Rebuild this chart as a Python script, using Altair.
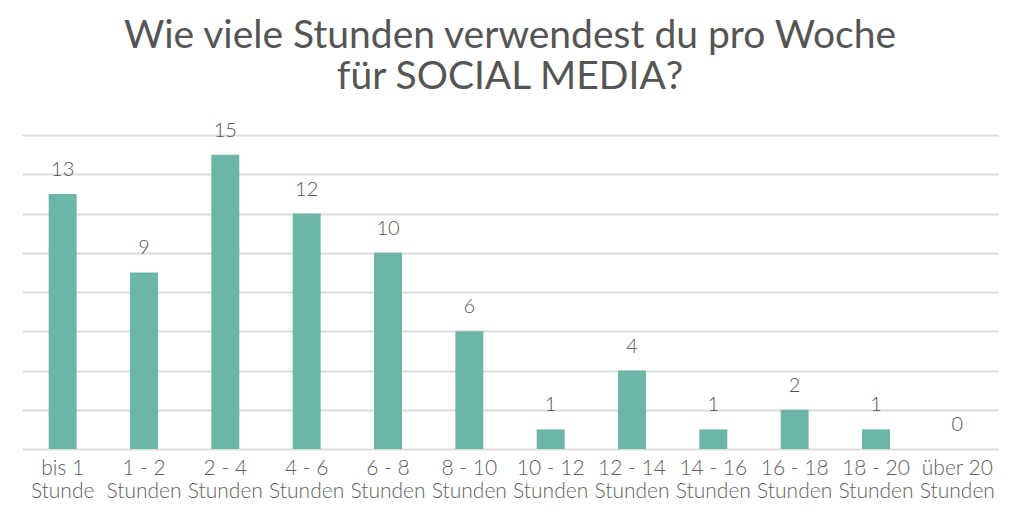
import altair as alt
import pandas as pd

line1 = ["bis 1", "1 - 2", "2 - 4", "4 - 6", "6 - 8", "8 - 10", "10 - 12",
         "12 - 14", "14 - 16", "16 - 18", "18 - 20", "über 20"]
line2 = ["Stunde"] + ["Stunden"] * 11
values = [13, 9, 15, 12, 10, 6, 1, 4, 1, 2, 1, 0]

categories = [a + "|" + b for a, b in zip(line1, line2)]
df = pd.DataFrame({"cat": categories, "val": values})

FONT = "Lato"
x = alt.X("cat:N", sort=categories, title=None,
          scale=alt.Scale(paddingInner=0.656, paddingOuter=0.328),
          axis=alt.Axis(labelAngle=0, domain=False, ticks=False,
                        labelExpr="split(datum.label, '|')",
                        labelFont=FONT, labelFontSize=21, labelFontWeight=300,
                        labelColor="#5f5f5f", labelOverlap=False,
                        labelPadding=8, labelLineHeight=23, labelBaseline="top"))
y = alt.Y("val:Q", title=None,
          scale=alt.Scale(domain=[0, 16], nice=False),
          axis=alt.Axis(values=list(range(0, 17, 2)), labels=False, ticks=False,
                        domain=False, grid=True, gridColor="#dcdcdc", gridWidth=2))

base = alt.Chart(df).encode(x=x, y=y)
bars = base.mark_bar(color="#6db5a7")
text = base.mark_text(dy=-18, font=FONT, fontSize=20, fontWeight=300,
                      color="#555555", baseline="alphabetic").encode(text="val:Q")

chart = (bars + text).properties(
    width=976, height=314,
    autosize=alt.AutoSizeParams(type="none"),
    padding={"left": 14, "top": 127, "right": 10, "bottom": 60},
    title=alt.TitleParams(
        text=["Wie viele Stunden verwendest du pro Woche", "für SOCIAL MEDIA?"],
        font=FONT, fontSize=39, fontWeight="normal", color="#555555",
        anchor="middle", offset=24, lineHeight=41),
).configure_view(stroke=None)

chart.save("out.html", embed_options={"renderer": "svg", "actions": False})
